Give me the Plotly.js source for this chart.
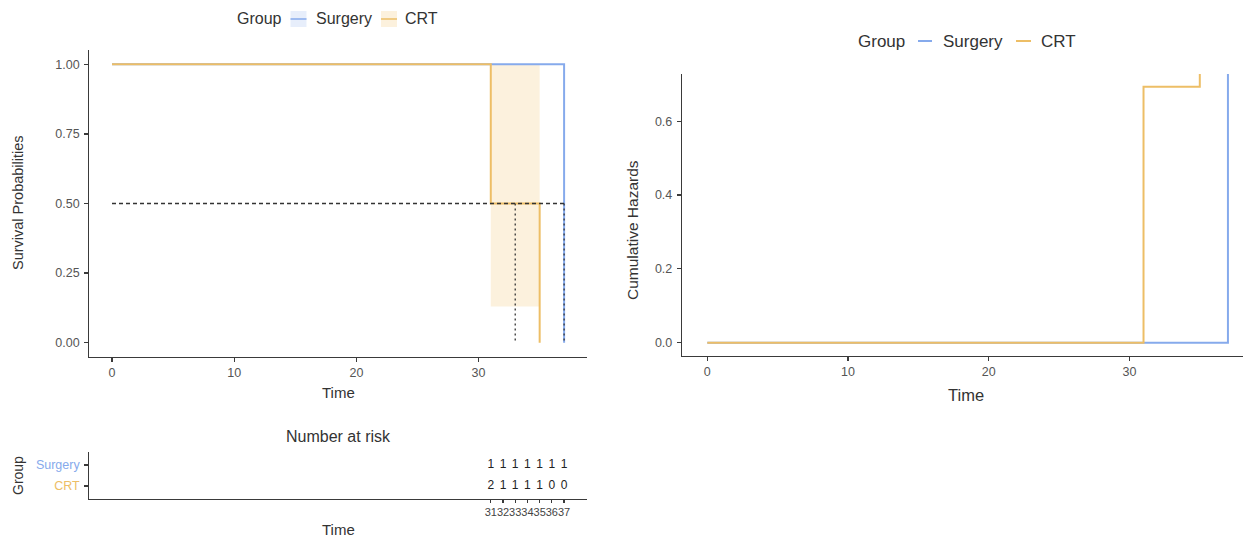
<!DOCTYPE html>
<html>
<head>
<meta charset="utf-8">
<script src="https://cdn.plot.ly/plotly-3.0.1.min.js"></script>
<style>html,body{margin:0;padding:0;background:#fff;}#chart{width:1243px;height:539px;}</style>
</head>
<body>
<div id="chart"></div>
<script>
// ---------- data ----------
const groups = ["Surgery", "CRT"];
// Kaplan-Meier survival steps
const survTimeSurgery = [0, 37];
const survSurgery = [1, 0];
const survTimeCRT = [0, 31, 35];
const survCRT = [1, 0.5, 0];
// CRT confidence band (interval 31-35)
const ciTimeCRT = [31, 35];
const ciLowerCRT = [0.13, 0.13];
const ciUpperCRT = [1, 1];
// median survival times
const medianTimes = [37, 33];   // Surgery, CRT
const medianLevel = 0.5;
// cumulative hazard steps (last value = infinite hazard, clipped)
const hazTimeSurgery = [0, 37];
const hazSurgery = [0, 5];
const hazTimeCRT = [0, 31, 35];
const hazCRT = [0, 0.693, 5];
// number at risk
const riskTimes = [31, 32, 33, 34, 35, 36, 37];
const riskSurgery = [1, 1, 1, 1, 1, 1, 1];
const riskCRT = [2, 1, 1, 1, 1, 0, 0];
// tick labels
const survTicks = [0, 0.25, 0.5, 0.75, 1];
const survTickText = ["0.00", "0.25", "0.50", "0.75", "1.00"];
const hazTicks = [0, 0.2, 0.4, 0.6];
const hazTickText = ["0.0", "0.2", "0.4", "0.6"];
const timeTicks = [0, 10, 20, 30];

// ---------- style ----------
const BLUE = "#86AAEC";
const ORANGE = "#EDBE66";
const BAND = "rgba(240,190,100,0.22)";
const FONT = "Liberation Sans, Arial, sans-serif";
const W = 1243, H = 539;
const px = v => v / W;
const py = v => 1 - v / H;

const traces = [];
// band
traces.push({x: ciTimeCRT, y: ciLowerCRT, mode: "lines", line: {width: 0, color: BAND}, xaxis: "x", yaxis: "y", hoverinfo: "skip"});
traces.push({x: ciTimeCRT, y: ciUpperCRT, mode: "lines", fill: "tonexty", fillcolor: BAND, line: {width: 0, color: BAND}, xaxis: "x", yaxis: "y", hoverinfo: "skip"});
// survival curves
traces.push({x: survTimeSurgery, y: survSurgery, mode: "lines", line: {shape: "hv", color: BLUE, width: 2}, xaxis: "x", yaxis: "y", name: groups[0]});
traces.push({x: survTimeCRT, y: survCRT, mode: "lines", line: {shape: "hv", color: ORANGE, width: 2}, xaxis: "x", yaxis: "y", name: groups[1]});
// median lines
const medMax = Math.max(...medianTimes);
const dashStyle = {color: "#333", width: 1.3, dash: "4px,3px"};
traces.push({x: [0, medMax], y: [medianLevel, medianLevel], mode: "lines", line: dashStyle, xaxis: "x", yaxis: "y"});
medianTimes.forEach(t => {
  traces.push({x: [t, t], y: [medianLevel, 0], mode: "lines", line: {color: "#333", width: 1.3, dash: "2px,3px"}, xaxis: "x", yaxis: "y"});
});
// risk table
traces.push({x: riskTimes, y: riskTimes.map(() => 2), mode: "text", text: riskSurgery.map(String), textfont: {family: FONT, size: 12, color: "#222"}, xaxis: "x2", yaxis: "y2", cliponaxis: false});
traces.push({x: riskTimes, y: riskTimes.map(() => 1), mode: "text", text: riskCRT.map(String), textfont: {family: FONT, size: 12, color: "#222"}, xaxis: "x2", yaxis: "y2", cliponaxis: false});
// cumulative hazard
traces.push({x: hazTimeSurgery, y: hazSurgery, mode: "lines", line: {shape: "hv", color: BLUE, width: 2}, xaxis: "x3", yaxis: "y3", name: groups[0]});
traces.push({x: hazTimeCRT, y: hazCRT, mode: "lines", line: {shape: "hv", color: ORANGE, width: 2}, xaxis: "x3", yaxis: "y3", name: groups[1]});

const axBase = {
  showline: true, linecolor: "#3a3a3a", linewidth: 1.2, ticks: "outside", ticklen: 4, tickwidth: 1.2,
  tickcolor: "#3a3a3a", showgrid: false, zeroline: false, fixedrange: true,
  tickfont: {family: FONT, size: 12.5, color: "#555"}
};
const xDomL = [px(89.4), px(586.7)];

const layout = {
  width: W, height: H, margin: {l: 0, r: 0, t: 0, b: 0},
  paper_bgcolor: "#fff", plot_bgcolor: "#fff", showlegend: false, hovermode: false,
  font: {family: FONT},
  xaxis: Object.assign({}, axBase, {domain: xDomL, range: [-1.85, 38.85], tickvals: timeTicks, anchor: "y", tickangle: 0}),
  yaxis: Object.assign({}, axBase, {domain: [py(356.6), py(50.4)], range: [-0.05, 1.05], tickvals: survTicks, ticktext: survTickText, anchor: "x", ticklabelstandoff: 2}),
  xaxis2: Object.assign({}, axBase, {domain: xDomL, range: [-1.85, 38.85], tickvals: riskTimes, anchor: "y2", tickangle: 0, ticklen: 3, tickfont: {family: FONT, size: 11, color: "#444"}}),
  yaxis2: Object.assign({}, axBase, {domain: [py(498.6), py(452.4)], range: [0.4, 2.6], tickvals: [1, 2],
    ticktext: ['<span style="color:' + ORANGE + '">' + groups[1] + '</span>', '<span style="color:' + BLUE + '">' + groups[0] + '</span>'],
    anchor: "x2", ticklabelstandoff: 2, tickfont: {family: FONT, size: 12.5, color: "#555"}}),
  xaxis3: Object.assign({}, axBase, {domain: [px(682), 1], range: [-1.8, 38.07], tickvals: timeTicks, anchor: "y3", tickangle: 0}),
  yaxis3: Object.assign({}, axBase, {domain: [py(355.5), py(74)], range: [-0.0347, 0.7278], tickvals: hazTicks, ticktext: hazTickText, anchor: "x3", ticklabelstandoff: 2}),
  annotations: [],
  shapes: []
};

function ann(text, x, y, size, opts) {
  layout.annotations.push(Object.assign({text: text, x: px(x), y: py(y), xref: "paper", yref: "paper",
    xanchor: "center", yanchor: "middle", showarrow: false, font: {family: FONT, size: size, color: "#333"}}, opts || {}));
}
// axis titles
ann("Survival Probabilities", 18, 203, 14.5, {textangle: -90});
ann("Time", 338, 392, 15);
ann("Number at risk", 338, 436, 16);
ann("Group", 18, 476, 14, {textangle: -90});
ann("Time", 338, 529, 15);
ann("Cumulative Hazards", 632, 230, 15.5, {textangle: -90});
ann("Time", 966, 395, 16.5);

// left legend
ann("Group", 259.5, 19, 16);
ann(groups[0], 344, 19, 16);
ann(groups[1], 421.7, 19, 16);
const legBoxL = [[290.5, 306.5, BLUE, "rgba(134,170,236,0.2)"], [381, 397, ORANGE, BAND]];
legBoxL.forEach(b => {
  layout.shapes.push({type: "rect", xref: "paper", yref: "paper", x0: px(b[0]), x1: px(b[1]), y0: py(27), y1: py(11), fillcolor: b[3], line: {width: 0}});
  layout.shapes.push({type: "line", xref: "paper", yref: "paper", x0: px(b[0]), x1: px(b[1]), y0: py(19), y1: py(19), line: {color: b[2], width: 1.5}});
});
// right legend
ann("Group", 881.5, 41, 17);
ann(groups[0], 973, 41, 17);
ann(groups[1], 1058.6, 41, 17);
[[918, 932, BLUE], [1016, 1031, ORANGE]].forEach(b => {
  layout.shapes.push({type: "line", xref: "paper", yref: "paper", x0: px(b[0]), x1: px(b[1]), y0: py(41), y1: py(41), line: {color: b[2], width: 2}});
});

Plotly.newPlot("chart", traces, layout, {staticPlot: true, displayModeBar: false});
</script>
</body>
</html>
